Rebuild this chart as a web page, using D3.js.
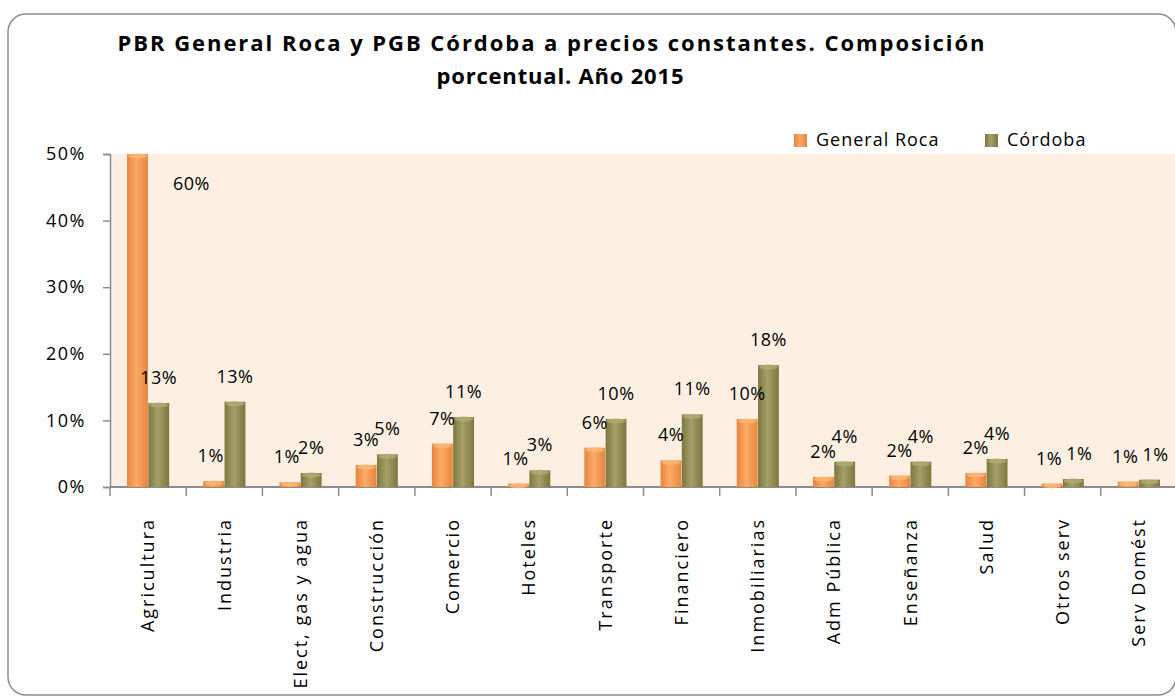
<!DOCTYPE html>
<html>
<head>
<meta charset="utf-8">
<script src="https://cdn.jsdelivr.net/npm/d3@7"></script>
<style>
  body { margin: 0; background: #fff; }
  svg text { font-family: "Open Sans", "Liberation Sans", Arial, sans-serif; fill: #000; }
</style>
</head>
<body>
<div id="chart"></div>
<script>
// data (percent)
var categories = ["Agricultura", "Industria", "Elect, gas y agua", "Construcción", "Comercio",
  "Hoteles", "Transporte", "Financiero", "Inmobiliarias", "Adm Pública", "Enseñanza",
  "Salud", "Otros serv", "Serv Domést"];
var series = ["General Roca", "Córdoba"];
var generalRoca = [60, 0.9, 0.7, 3.3, 6.5, 0.5, 5.9, 4.0, 10.2, 1.5, 1.7, 2.1, 0.5, 0.8];
var cordoba = [12.6, 12.8, 2.1, 4.9, 10.5, 2.5, 10.2, 10.9, 18.3, 3.8, 3.8, 4.2, 1.2, 1.1];
var yTicks = [0, 10, 20, 30, 40, 50];
var titleLines = ["PBR General Roca y PGB Córdoba a precios constantes. Composición",
  "porcentual. Año 2015"];

var W = 1175, H = 699;
var margin = {top: 154, left: 110, bottom: 212};
var plotW = 1067, plotH = H - margin.top - margin.bottom;

var svg = d3.select("#chart").append("svg")
  .attr("width", W).attr("height", H);

// gradients for the cylinder look
var defs = svg.append("defs");
function grad(id, edge, mid) {
  var g = defs.append("linearGradient").attr("id", id)
    .attr("x1", "0%").attr("x2", "100%").attr("y1", "0%").attr("y2", "0%");
  g.append("stop").attr("offset", "0%").attr("stop-color", edge);
  g.append("stop").attr("offset", "45%").attr("stop-color", mid);
  g.append("stop").attr("offset", "100%").attr("stop-color", edge);
}
grad("gOrange", "#E8843C", "#FBAA66");
grad("gGreen", "#7C773F", "#A5A067");
var fills = {"General Roca": "url(#gOrange)", "Córdoba": "url(#gGreen)"};
var caps = {"General Roca": "#FDB877", "Córdoba": "#B0AB73"};

// outer frame
svg.append("rect")
  .attr("x", 8).attr("y", 14).attr("width", 1168).attr("height", 681)
  .attr("rx", 18).attr("ry", 18)
  .attr("fill", "#fff").attr("stroke", "#8c8c8c").attr("stroke-width", 1.5);

// title
var title = svg.append("text").attr("text-anchor", "middle")
  .style("font-weight", "bold").style("font-size", "22px");
title.append("tspan").attr("x", 551).attr("y", 51)
  .attr("textLength", 867).attr("lengthAdjust", "spacing").text(titleLines[0]);
title.append("tspan").attr("x", 560).attr("y", 84)
  .attr("textLength", 247).attr("lengthAdjust", "spacing").text(titleLines[1]);

var g = svg.append("g")
  .attr("transform", "translate(" + margin.left + "," + margin.top + ")");

// plot background
g.append("rect").attr("width", plotW).attr("height", plotH).attr("fill", "#FDF0E2");

var x = d3.scaleBand().domain(categories).range([0, plotW]).padding(0);
var bw = x.bandwidth();
var x1 = d3.scaleBand().domain(series).range([bw / 2 - 21.5, bw / 2 + 21.5]).padding(0.02);
var y = d3.scaleLinear().domain([0, 50]).range([plotH, 0]);

// y axis
var yAxis = g.append("g")
  .call(d3.axisLeft(y).tickValues(yTicks).tickSize(7).tickPadding(17)
    .tickFormat(function(d) { return d + "%"; }));
yAxis.select(".domain").attr("stroke", "#8c8c8c").attr("stroke-width", 1.5);
yAxis.selectAll(".tick line").attr("stroke", "#8c8c8c").attr("stroke-width", 1.5);
yAxis.selectAll(".tick text").style("font-size", "18px").style("letter-spacing", "1.5px")
  .attr("font-family", null);

// x axis line and ticks at band edges
g.append("line").attr("x1", 0).attr("x2", plotW).attr("y1", plotH).attr("y2", plotH)
  .attr("stroke", "#8c8c8c").attr("stroke-width", 2);
g.selectAll(".xtick").data(categories).enter().append("line")
  .attr("class", "xtick")
  .attr("x1", function(d) { return x(d); }).attr("x2", function(d) { return x(d); })
  .attr("y1", plotH).attr("y2", plotH + 9)
  .attr("stroke", "#8c8c8c").attr("stroke-width", 1.5);

// x labels
g.selectAll(".xlab").data(categories).enter().append("text")
  .attr("class", "xlab")
  .attr("transform", function(d) {
    return "translate(" + (x(d) + bw / 2) + "," + (plotH + 31) + ") rotate(-90)";
  })
  .attr("text-anchor", "end").attr("dy", "0.35em")
  .style("font-size", "18px").style("letter-spacing", "2px")
  .text(function(d) { return d; });

// bars
var rows = categories.map(function(c, i) {
  return {cat: c, vals: [
    {s: "General Roca", v: generalRoca[i]},
    {s: "Córdoba", v: cordoba[i]}
  ]};
});
var groups = g.selectAll(".grp").data(rows).enter().append("g")
  .attr("class", "grp")
  .attr("transform", function(d) { return "translate(" + x(d.cat) + ",0)"; });

var bars = groups.selectAll(".bar").data(function(d) { return d.vals; }).enter();
bars.append("rect")
  .attr("x", function(d) { return x1(d.s); })
  .attr("y", function(d) { return y(Math.min(d.v, 50)); })
  .attr("width", x1.bandwidth())
  .attr("height", function(d) { return plotH - y(Math.min(d.v, 50)); })
  .attr("fill", function(d) { return fills[d.s]; });
bars.append("ellipse")
  .attr("cx", function(d) { return x1(d.s) + x1.bandwidth() / 2; })
  .attr("cy", function(d) { return y(Math.min(d.v, 50)) + 2; })
  .attr("rx", x1.bandwidth() / 2 - 1).attr("ry", 2.5)
  .attr("fill", function(d) { return caps[d.s]; }).attr("opacity", 0.8);

// value labels (a value above the axis max is written beside the clipped bar)
bars.append("text")
  .attr("text-anchor", "middle")
  .attr("x", function(d) {
    var cx = x1(d.s) + x1.bandwidth() / 2;
    if (d.v > 50) return cx + 54;
    // small neighbouring labels are pushed apart a little, as in the source
    return d.v < 1.5 ? cx + (d.s === "General Roca" ? -3 : 6) : cx;
  })
  .attr("y", function(d) { return d.v > 50 ? y(50) + 36 : y(d.v) - 19; })
  .style("font-size", "18px").style("letter-spacing", "0.5px")
  .text(function(d) { return Math.round(d.v) + "%"; });

// legend
var legX = [794, 985];
var leg = svg.selectAll(".leg").data(series).enter().append("g")
  .attr("class", "leg")
  .attr("transform", function(d, i) { return "translate(" + legX[i] + ",134)"; });
leg.append("rect").attr("width", 13).attr("height", 13)
  .attr("fill", function(d) { return fills[d]; });
leg.append("text").attr("x", 22).attr("y", 12)
  .style("font-size", "18px").style("letter-spacing", "1px")
  .text(function(d) { return d; });
</script>
</body>
</html>
